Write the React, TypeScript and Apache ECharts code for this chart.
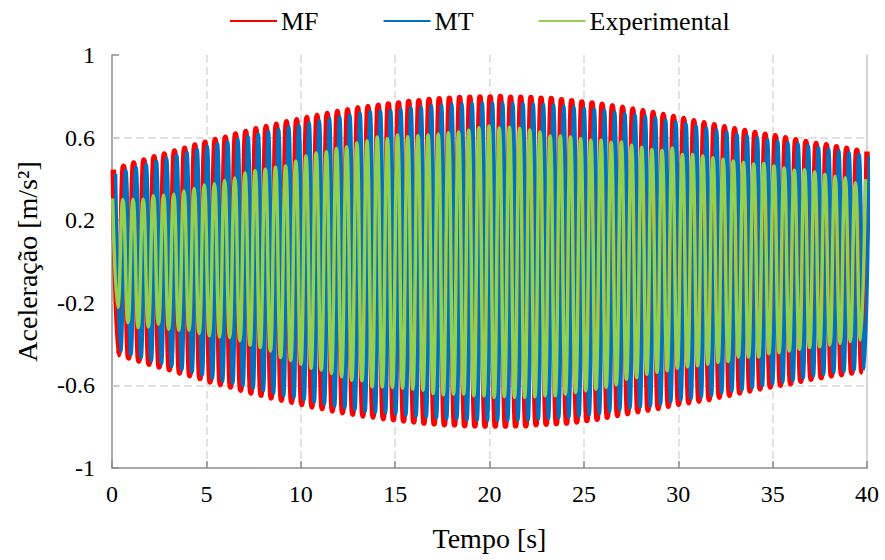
import { useEffect, useRef } from 'react';
import * as echarts from 'echarts';

// ---- Data ----
const seriesNames = ['MF', 'MT', 'Experimental'];
const seriesColors = ['#FF0000', '#0070C0', '#92D050'];

// time of first peak [s] and oscillation period [s] for each series
const mfStart = 0.07;
const mtStart = 0.19;
const expStart = 0.035;
const mfPeriod = 0.5396;
const mtPeriod = 0.5396;
const expPeriod = 0.539;

// MF positive peaks and negative troughs [m/s²]
const mfPeaks = [
  0.445, 0.461, 0.477, 0.491, 0.507, 0.520, 0.535, 0.549, 0.564, 0.577,
  0.591, 0.602, 0.617, 0.630, 0.643, 0.654, 0.665, 0.677, 0.686, 0.697,
  0.707, 0.717, 0.726, 0.735, 0.744, 0.751, 0.757, 0.763, 0.768, 0.775,
  0.778, 0.785, 0.788, 0.791, 0.794, 0.796, 0.797, 0.797, 0.799, 0.796,
  0.796, 0.794, 0.791, 0.789, 0.783, 0.778, 0.773, 0.768, 0.762, 0.754,
  0.747, 0.739, 0.730, 0.722, 0.712, 0.702, 0.693, 0.681, 0.672, 0.662,
  0.653, 0.643, 0.634, 0.625, 0.616, 0.609, 0.599, 0.590, 0.581, 0.572,
  0.565, 0.556, 0.548, 0.539, 0.533,
];
const mfTroughs = [
  -0.451, -0.467, -0.482, -0.498, -0.511, -0.524, -0.540, -0.553, -0.567, -0.583,
  -0.596, -0.608, -0.623, -0.637, -0.648, -0.661, -0.672, -0.681, -0.693, -0.704,
  -0.712, -0.724, -0.732, -0.740, -0.748, -0.753, -0.761, -0.766, -0.772, -0.777,
  -0.782, -0.786, -0.790, -0.791, -0.795, -0.796, -0.797, -0.797, -0.797, -0.796,
  -0.796, -0.790, -0.788, -0.785, -0.782, -0.777, -0.770, -0.764, -0.754, -0.746,
  -0.737, -0.728, -0.720, -0.712, -0.701, -0.691, -0.684, -0.677, -0.669, -0.657,
  -0.648, -0.637, -0.627, -0.617, -0.608, -0.599, -0.592, -0.580, -0.570, -0.563,
  -0.554, -0.548, -0.540, -0.535,
];

// MT peaks and troughs [m/s²]
const mtPeaks = [
  0.425, 0.441, 0.457, 0.471, 0.487, 0.500, 0.515, 0.529, 0.544, 0.557,
  0.571, 0.580, 0.592, 0.605, 0.618, 0.629, 0.640, 0.652, 0.661, 0.672,
  0.682, 0.692, 0.701, 0.710, 0.719, 0.726, 0.730, 0.733, 0.738, 0.745,
  0.748, 0.755, 0.758, 0.761, 0.764, 0.766, 0.767, 0.767, 0.769, 0.766,
  0.766, 0.764, 0.761, 0.759, 0.753, 0.748, 0.743, 0.738, 0.732, 0.724,
  0.717, 0.711, 0.705, 0.697, 0.687, 0.677, 0.668, 0.656, 0.647, 0.637,
  0.628, 0.618, 0.609, 0.600, 0.591, 0.584, 0.576, 0.570, 0.561, 0.552,
  0.545, 0.536, 0.528, 0.519, 0.513,
];
const mtTroughs = [
  -0.435, -0.451, -0.466, -0.482, -0.495, -0.508, -0.524, -0.537, -0.551, -0.567,
  -0.580, -0.590, -0.601, -0.615, -0.626, -0.639, -0.650, -0.659, -0.671, -0.682,
  -0.690, -0.702, -0.710, -0.718, -0.726, -0.731, -0.734, -0.739, -0.745, -0.750,
  -0.755, -0.759, -0.763, -0.764, -0.768, -0.769, -0.770, -0.770, -0.770, -0.769,
  -0.769, -0.763, -0.761, -0.758, -0.755, -0.750, -0.743, -0.737, -0.727, -0.719,
  -0.710, -0.705, -0.700, -0.692, -0.681, -0.671, -0.664, -0.657, -0.649, -0.637,
  -0.628, -0.622, -0.612, -0.602, -0.593, -0.584, -0.577, -0.565, -0.555, -0.548,
  -0.539, -0.533, -0.525, -0.520,
];

// Experimental peaks and troughs [m/s²]
const expPeaks = [
  0.305, 0.300, 0.302, 0.302, 0.318, 0.321, 0.326, 0.341, 0.353, 0.370,
  0.377, 0.392, 0.404, 0.428, 0.440, 0.447, 0.457, 0.463, 0.486, 0.511,
  0.526, 0.531, 0.547, 0.555, 0.574, 0.584, 0.603, 0.595, 0.612, 0.604,
  0.609, 0.612, 0.616, 0.623, 0.627, 0.635, 0.648, 0.656, 0.647, 0.650,
  0.645, 0.637, 0.627, 0.608, 0.608, 0.603, 0.595, 0.587, 0.587, 0.578,
  0.579, 0.563, 0.553, 0.542, 0.537, 0.550, 0.518, 0.518, 0.511, 0.503,
  0.495, 0.487, 0.479, 0.472, 0.474, 0.463, 0.453, 0.442, 0.444, 0.434,
  0.421, 0.413, 0.406, 0.381, 0.399,
];
const expTroughs = [
  -0.223, -0.296, -0.320, -0.317, -0.304, -0.328, -0.333, -0.333, -0.349, -0.360,
  -0.365, -0.368, -0.384, -0.404, -0.417, -0.433, -0.465, -0.479, -0.497, -0.517,
  -0.526, -0.542, -0.558, -0.575, -0.578, -0.607, -0.607, -0.610, -0.613, -0.618,
  -0.623, -0.639, -0.645, -0.642, -0.642, -0.650, -0.651, -0.658, -0.655, -0.658,
  -0.658, -0.655, -0.650, -0.650, -0.642, -0.634, -0.626, -0.618, -0.610, -0.597,
  -0.570, -0.562, -0.546, -0.537, -0.529, -0.517, -0.510, -0.505, -0.497, -0.489,
  -0.484, -0.462, -0.462, -0.462, -0.446, -0.441, -0.433, -0.425, -0.417, -0.413,
  -0.404, -0.397, -0.387, -0.381,
];

// axes
const xMin = 0;
const xMax = 40;
const xStep = 5;
const yMin = -1;
const yMax = 1;
const yStep = 0.2;
const yTickValues = [-1, -0.6, -0.2, 0.2, 0.6, 1];
const yGridValues = [-0.6, -0.2, 0.2, 0.6];
const xAxisTitle = 'Tempo [s]';
const yAxisTitle = 'Aceleração [m/s²]';

function buildSeriesData(start: number, period: number, peaks: number[], troughs: number[]) {
  const out: [number, number][] = [];
  for (let i = 0; i < peaks.length; i++) {
    out.push([start + i * period, peaks[i]]);
    if (i < troughs.length) out.push([start + (i + 0.5) * period, troughs[i]]);
  }
  return out;
}

const FONT = 'Liberation Serif';

export default function App() {
  const ref = useRef<HTMLDivElement>(null);
  useEffect(() => {
    if (!ref.current) return;
    const chart = echarts.init(ref.current, null, { renderer: 'svg' });
    const datasets = [
      buildSeriesData(mfStart, mfPeriod, mfPeaks, mfTroughs),
      buildSeriesData(mtStart, mtPeriod, mtPeaks, mtTroughs),
      buildSeriesData(expStart, expPeriod, expPeaks, expTroughs),
    ];
    const widths = [5.5, 3.5, 3.5];
    const gridLine = { color: '#d9d9d9', width: 1.5, type: [8, 4] as number[] };
    chart.setOption({
      animation: false,
      textStyle: { fontFamily: FONT, color: '#000' },
      legend: {
        left: 224,
        top: 3,
        itemWidth: 47,
        itemHeight: 14,
        itemGap: 64,
        itemStyle: { opacity: 0 },
        textStyle: { fontFamily: FONT, fontSize: 26, color: '#000', padding: [0, 0, 0, -1] },
        data: seriesNames,
      },
      grid: { left: 112, right: 18, top: 55, bottom: 92, containLabel: false },
      xAxis: {
        type: 'value',
        min: xMin,
        max: xMax,
        interval: xStep,
        name: xAxisTitle,
        nameLocation: 'middle',
        nameGap: 56,
        nameTextStyle: { fontFamily: FONT, fontSize: 28, color: '#000' },
        axisLine: { show: true, onZero: false, lineStyle: { color: '#8c8c8c', width: 1.5 } },
        axisTick: { show: true, inside: true, length: 7, lineStyle: { color: '#8c8c8c', width: 1.5 } },
        axisLabel: { fontFamily: FONT, fontSize: 24, color: '#000', margin: 14 },
        splitLine: { show: true, showMinLine: false, showMaxLine: false, lineStyle: gridLine },
      },
      yAxis: [
        {
          type: 'value',
          min: yMin,
          max: yMax,
          interval: yStep,
          name: yAxisTitle,
          nameLocation: 'middle',
          nameGap: 71,
          nameRotate: 90,
          nameTextStyle: { fontFamily: FONT, fontSize: 28, color: '#000' },
          axisLine: { show: true, onZero: false, lineStyle: { color: '#8c8c8c', width: 1.5 } },
          axisTick: {
            show: true,
            inside: true,
            length: 7,
            customValues: yTickValues,
            lineStyle: { color: '#8c8c8c', width: 1.5 },
          },
          axisLabel: {
            fontFamily: FONT,
            fontSize: 24,
            color: '#000',
            margin: 17,
            customValues: yTickValues,
            formatter: (v: number) =>
              yTickValues.some((t) => Math.abs(t - v) < 1e-6) ? String(v) : '',
          },
          splitLine: { show: false },
        },
        {
          type: 'value',
          min: yMin,
          max: yMax,
          position: 'right',
          axisLine: { show: true, onZero: false, lineStyle: { color: '#c8c8c8', width: 1.5 } },
          axisTick: { show: false },
          axisLabel: { show: false },
          splitLine: { show: false },
        },
      ],
      series: datasets.map((d, i) => ({
        name: seriesNames[i],
        type: 'line',
        data: d,
        smooth: 0.5,
        symbol: 'none',
        clip: true,
        z: 2 + i,
        lineStyle: { color: seriesColors[i], width: widths[i] },
        itemStyle: { color: seriesColors[i] },
        ...(i === 0
          ? {
              markLine: {
                silent: true,
                z: 1,
                symbol: ['none', 'none'],
                label: { show: false },
                lineStyle: gridLine,
                data: yGridValues.map((v) => ({ yAxis: v })),
              },
            }
          : {}),
      })),
    });
    return () => chart.dispose();
  }, []);
  return (
    <div
      ref={ref}
      style={{ position: 'absolute', left: 0, top: 0, width: 885, height: 560, background: '#fff' }}
    />
  );
}
